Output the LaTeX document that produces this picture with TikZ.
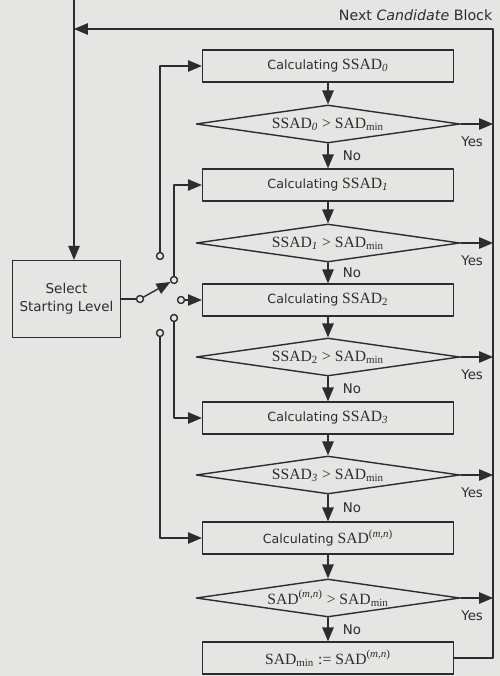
\documentclass[tikz,border=0pt]{standalone}
\usepackage{fontspec}
\setmainfont{Liberation Serif}
\setsansfont{DejaVu Sans}
\usepackage{tikz}
\usetikzlibrary{arrows,shapes.geometric}

\definecolor{paper}{RGB}{229,229,227}
\definecolor{ink}{RGB}{45,45,45}

\newcommand{\calcLbl}[1]{{\sffamily\fontsize{7.2}{9}\selectfont Calculating}~#1}

\tikzset{
  calcbox/.style={draw=ink, fill=paper, text=ink, minimum width=5.02cm, minimum height=0.64cm, inner sep=0pt, font=\fontsize{8.9}{10}\selectfont},
  testbox/.style={diamond, aspect=7, draw=ink, fill=paper, text=ink, minimum width=5.28cm, minimum height=0.76cm, inner sep=0pt, font=\fontsize{8.9}{10}\selectfont},
  selbox/.style={draw=ink, fill=paper, text=ink, minimum width=2.16cm, minimum height=1.54cm, align=center, font=\sffamily\fontsize{7.7}{10}\selectfont},
  swpin/.style={circle, draw=ink, fill=paper, inner sep=0pt, minimum size=0.14cm},
  nolbl/.style={right=8pt, inner sep=0pt, text=ink, font=\sffamily\fontsize{7.6}{9}\selectfont},
  yeslbl/.style={pos=0, anchor=north west, inner sep=0pt, yshift=-7pt, text=ink, font=\sffamily\fontsize{7.6}{9}\selectfont},
  toplbl/.style={inner sep=0pt, text=ink, font=\sffamily\fontsize{8.1}{10}\selectfont}
}

\begin{document}
\begin{tikzpicture}[line cap=round,line join=round,>=triangle 45,x=0.02cm,y=-0.02cm,line width=0.8pt,draw=ink]
\fill[paper] (0,0) rectangle (500,676);
\useasboundingbox (0,0) rectangle (500,676);
\coordinate (top) at (74,0);
\coordinate (nw) at (74,29);
\coordinate (ne) at (493,29);
\node[toplbl, anchor=east] (nxt) at (493,15) {Next \textit{Candidate} Block};
% main column
\node[calcbox] (c0) at (328,66) {\calcLbl{SSAD\textsubscript{\textit{0}}}};
\node[testbox] (t0) at (328,124) {SSAD\textsubscript{\textit{0}} > SAD\textsubscript{min}};
\node[calcbox] (c1) at (328,185) {\calcLbl{SSAD\textsubscript{\textit{1}}}};
\node[testbox] (t1) at (328,243) {SSAD\textsubscript{\textit{1}} > SAD\textsubscript{min}};
\node[calcbox] (c2) at (328,300) {\calcLbl{SSAD\textsubscript{2}}};
\node[testbox] (t2) at (328,357) {SSAD\textsubscript{2} > SAD\textsubscript{min}};
\node[calcbox] (c3) at (328,418) {\calcLbl{SSAD\textsubscript{\textit{3}}}};
\node[testbox] (t3) at (328,475) {SSAD\textsubscript{\textit{3}} > SAD\textsubscript{min}};
\node[calcbox] (c4) at (328,538) {\calcLbl{SAD\textsuperscript{(\textit{m,n})}}};
\node[testbox] (t4) at (328,598) {SAD\textsuperscript{(\textit{m,n})} > SAD\textsubscript{min}};
\node[calcbox] (c5) at (328,658) {SAD\textsubscript{min} := SAD\textsuperscript{(\textit{m,n})}};
\foreach \i/\j in {0/1,1/2,2/3,3/4,4/5} {
  \draw[->] (c\i.south) -- (t\i.north);
  \draw[->] (t\i.south) -- node[nolbl] {No} (c\j.north);
  \draw[->] (t\i.east) -- node[yeslbl] {Yes} (t\i.east -| ne);
}
% back to the next block
\draw[->] (c5.east) -- (c5.east -| ne) -- (ne) -- (nw);
% level select and switch
\node[selbox] (sel) at (66.5,299) {Select\\Starting Level};
\draw[->] (top) -- (top |- sel.north);
\node[swpin] (p0) at (140,299) {};
\node[swpin] (pa) at (160,256) {};
\node[swpin] (pb) at (174,280) {};
\node[swpin] (pc) at (181,300) {};
\node[swpin] (pd) at (174,318) {};
\node[swpin] (pe) at (160,333) {};
\draw (sel.east) -- (p0);
\draw[->] (p0) -- (pb);
\draw[->] (pa) -- (pa |- c0) -- (c0.west);
\draw[->] (pb) -- (pb |- c1) -- (c1.west);
\draw[->] (pc) -- (c2.west);
\draw[->] (pd) -- (pd |- c3) -- (c3.west);
\draw[->] (pe) -- (pe |- c4) -- (c4.west);
\end{tikzpicture}
\end{document}
